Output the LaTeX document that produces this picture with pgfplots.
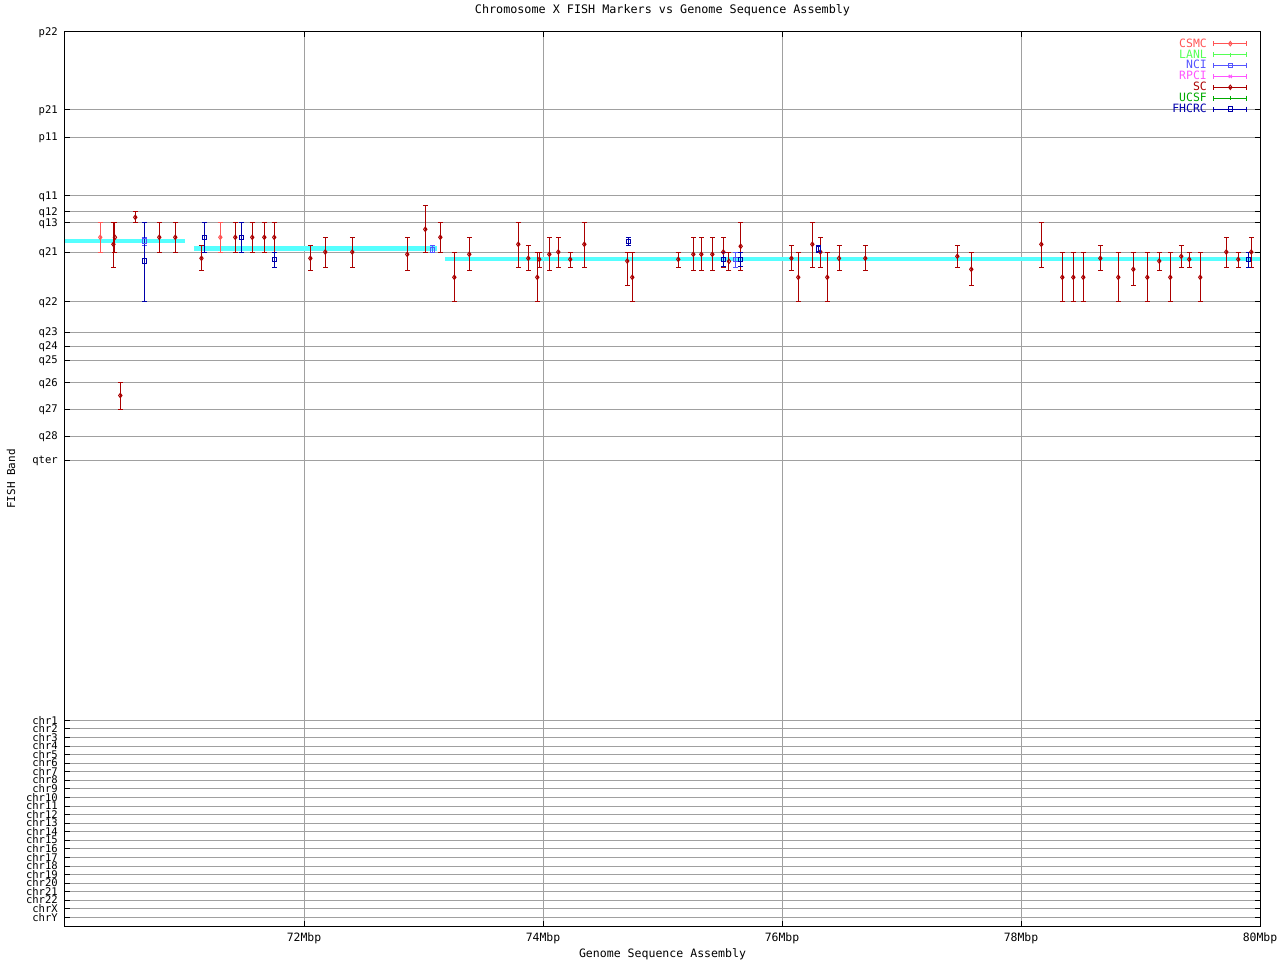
\documentclass[border=0pt]{standalone}
\usepackage{fontspec}
\setmainfont{DejaVu Sans Mono}
\usepackage{pgfplots}
\pgfplotsset{compat=1.18}
\usepackage{pgfplotstable}
\usetikzlibrary{arrows.meta}

\definecolor{csmc}{HTML}{FF5555}
\definecolor{lanl}{HTML}{55FF55}
\definecolor{nci}{HTML}{5555FF}
\definecolor{rpci}{HTML}{FF55FF}
\definecolor{sc}{HTML}{AA0000}
\definecolor{ucsf}{HTML}{00AA00}
\definecolor{fhcrc}{HTML}{0000AA}
\definecolor{band}{HTML}{55FFFF}
\definecolor{gridgray}{HTML}{A0A0A0}

% x = position (Mbp), y = band position, t/b = top/bottom of the band range
\pgfplotstableread{
x y t b
70.295 237.3 222.3 252
71.300 237.3 222.3 252
}\csmctab

\pgfplotstableread{
x y t b
70.664 241 237.5 245
73.074 250 245.5 252.3
75.615 259.5 252.5 267
}\ncitab

\pgfplotstableread{
x y t b
70.405 244.3 222.3 267
70.418 237.3 222.3 252
70.463 395.5 382.3 409.3
70.588 217.3 211.5 222.3
70.789 237.3 222.3 252
70.923 237.3 222.3 252
71.142 258.3 245.7 270
71.425 237.3 222.3 252
71.567 237.3 222.3 252
71.668 237.3 222.3 252
71.751 237.3 222.3 252
72.053 258.3 245.7 270
72.178 252 237.3 267.3
72.404 252 237.3 267.3
72.864 254.3 237.3 270
73.015 229.3 205.3 252.3
73.141 237.3 222.3 252.3
73.258 277.3 252.3 301.3
73.383 254.3 237.3 270
73.793 244.3 222.3 267.3
73.877 258.3 245.7 270
73.952 277.3 252 301.3
73.969 259.3 252 267.3
74.053 254.3 237.3 270
74.128 252 237.3 267.3
74.228 259.3 252 267.3
74.346 244.3 222.3 267.3
74.705 261 252 285.3
74.747 277.3 252 301.3
75.132 259.3 252 267.3
75.258 254.3 237.3 270
75.325 254.3 237.3 270
75.417 254.3 237.3 270
75.509 252 237.3 267.3
75.556 261.3 252.5 270
75.654 246.3 222.3 270
76.079 258.3 245.7 270
76.136 277.3 252 301.3
76.254 244.3 222.3 267.3
76.321 252 237.3 267.3
76.379 277.3 252 301.3
76.477 258.3 245.7 270
76.697 258.3 245.7 270
77.467 256.3 245.7 267.3
77.584 269.3 252 285.3
78.170 244.3 222.3 267.3
78.346 277.3 252 301.3
78.438 277.3 252 301.3
78.521 277.3 252 301.3
78.664 258.3 245.7 270
78.814 277.3 252 301.3
78.940 269.3 252 285.3
79.057 277.3 252 301.3
79.157 261 252 270
79.249 277.3 252 301.3
79.341 256.3 245.7 267.3
79.408 259.3 252 267.3
79.500 277.3 252 301.3
79.718 252 237.3 267.3
79.818 259.3 252 267.3
79.927 252 237.3 267.3
}\sctab

\pgfplotstableread{
x y t b
70.664 261 222.3 301.3
71.166 237.3 222.3 252
71.475 237.3 222.3 252
71.751 259.3 252 267.3
74.714 241.3 237.3 245.7
75.509 259.3 252.5 266.7
75.654 259.3 252.5 266.7
76.304 249 245.7 252
79.905 259.3 252 267.3
}\fhcrctab

\pgfplotsset{
  ebar/.style={only marks, line width=1bp, mark options={line width=1bp, solid, fill=white},
    error bars/y dir=both, error bars/y explicit,
    error bars/error bar style={line width=1bp},
    error bars/error mark=-,
    error bars/error mark options={rotate=90, line width=1bp, mark size=2.5bp}},
  ebleg/.style={legend image code/.code={
    \draw[##1, mark=none, {Bar[width=5bp]}-{Bar[width=5bp]}] (0bp,0bp) -- (34bp,0bp);
    \draw[##1] plot coordinates {(17bp,0bp)};}},
}

\begin{document}
\begin{tikzpicture}
\begin{axis}[
  scale only axis, width=1195bp, height=894bp,
  xmin=70, xmax=80, ymin=32, ymax=926, y dir=reverse,
  enlargelimits=false,
  axis line style={black, line width=1bp},
  tick align=inside, major tick length=5bp,
  tick style={black, line width=1bp},
  grid=major, grid style={gridgray, line width=1bp},
  xtick={72,74,76,78,80},
  xticklabels={72Mbp,74Mbp,76Mbp,78Mbp,80Mbp},
  ytick={32,110,137.3,195.3,211.3,222.3,252.2,301.3,332,346,360,382.3,409,436,460,
    720.3,728.87,737.44,746.01,754.58,763.15,771.72,780.29,788.86,797.43,806.0,814.57,
    823.14,831.71,840.28,848.85,857.42,865.99,874.56,883.13,891.7,900.27,908.84,917.41},
  yticklabels={p22,p21,p11,q11,q12,q13,q21,q22,q23,q24,q25,q26,q27,q28,qter,
    chr1,chr2,chr3,chr4,chr5,chr6,chr7,chr8,chr9,chr10,chr11,chr12,chr13,chr14,
    chr15,chr16,chr17,chr18,chr19,chr20,chr21,chr22,chrX,chrY},
  /pgf/number format/assume math mode=true,
  yticklabel style={font=\fontsize{10.6}{10.6}\selectfont, anchor=base east, inner sep=0pt, xshift=-7bp, yshift=-3.7bp},
  xticklabel style={font=\fontsize{11.5}{11.5}\selectfont, anchor=base, inner sep=0pt, yshift=-15bp},
  title={Chromosome X FISH Markers vs Genome Sequence Assembly},
  title style={at={(axis description cs:0.5,1)}, anchor=base, yshift=13bp, inner sep=0pt, font=\fontsize{11.8}{12}\selectfont},
  xlabel={Genome Sequence Assembly},
  xlabel style={at={(axis description cs:0.5,0)}, anchor=base, yshift=-31bp, inner sep=0pt, font=\fontsize{11.6}{12}\selectfont},
  ylabel={FISH Band},
  ylabel style={at={(axis description cs:-0.0452,0.5)}, anchor=center, inner sep=0pt, font=\fontsize{11}{11}\selectfont},
  legend style={at={(axis description cs:1,1)}, anchor=north east, xshift=-12bp, yshift=-7.5bp,
    draw=none, fill=none, inner sep=0pt, font=\fontsize{11.5}{11.5}\selectfont,
    row sep=2.9bp, column sep=6bp,
    nodes={inner sep=0pt, text height=7.5bp, text depth=0.5bp}},
  legend cell align=right,
  legend plot pos=right,
]
% genome sequence assembly segments
\addplot[band, line width=4.5bp, forget plot] coordinates {(70,241) (71.004,241)};
\addplot[band, line width=4.5bp, forget plot] coordinates {(71.08,248.7) (73.11,248.7)};
\addplot[band, line width=4.5bp, forget plot] coordinates {(73.18,258.9) (80,258.9)};

\addplot[ebleg, ebar, color=csmc, mark=diamond, mark size=2.2bp]
  table[x=x, y=y, y error plus expr=\thisrow{b}-\thisrow{y}, y error minus expr=\thisrow{y}-\thisrow{t}] {\csmctab};
\addlegendentry{\textcolor{csmc}{CSMC}}
\addlegendimage{ebleg, ebar, color=lanl, mark=|, mark size=2bp}
\addlegendentry{\textcolor{lanl}{LANL}}
\addplot[ebleg, ebar, color=nci, mark=square, mark size=2.2bp]
  table[x=x, y=y, y error plus expr=\thisrow{b}-\thisrow{y}, y error minus expr=\thisrow{y}-\thisrow{t}] {\ncitab};
\addlegendentry{\textcolor{nci}{NCI}}
\addlegendimage{ebleg, ebar, color=rpci, mark=x, mark size=2.2bp}
\addlegendentry{\textcolor{rpci}{RPCI}}
\addplot[ebleg, ebar, color=sc, mark=diamond, mark size=2.2bp]
  table[x=x, y=y, y error plus expr=\thisrow{b}-\thisrow{y}, y error minus expr=\thisrow{y}-\thisrow{t}] {\sctab};
\addlegendentry{\textcolor{sc}{SC}}
\addlegendimage{ebleg, ebar, color=ucsf, mark=|, mark size=2bp}
\addlegendentry{\textcolor{ucsf}{UCSF}}
\addplot[ebleg, ebar, color=fhcrc, mark=square, mark size=2.2bp]
  table[x=x, y=y, y error plus expr=\thisrow{b}-\thisrow{y}, y error minus expr=\thisrow{y}-\thisrow{t}] {\fhcrctab};
\addlegendentry{\textcolor{fhcrc}{FHCRC}}
\end{axis}
\path ([shift={(-65bp,-34bp)}]current axis.south west) rectangle ([shift={(20bp,32bp)}]current axis.north east);
\end{tikzpicture}
\end{document}
